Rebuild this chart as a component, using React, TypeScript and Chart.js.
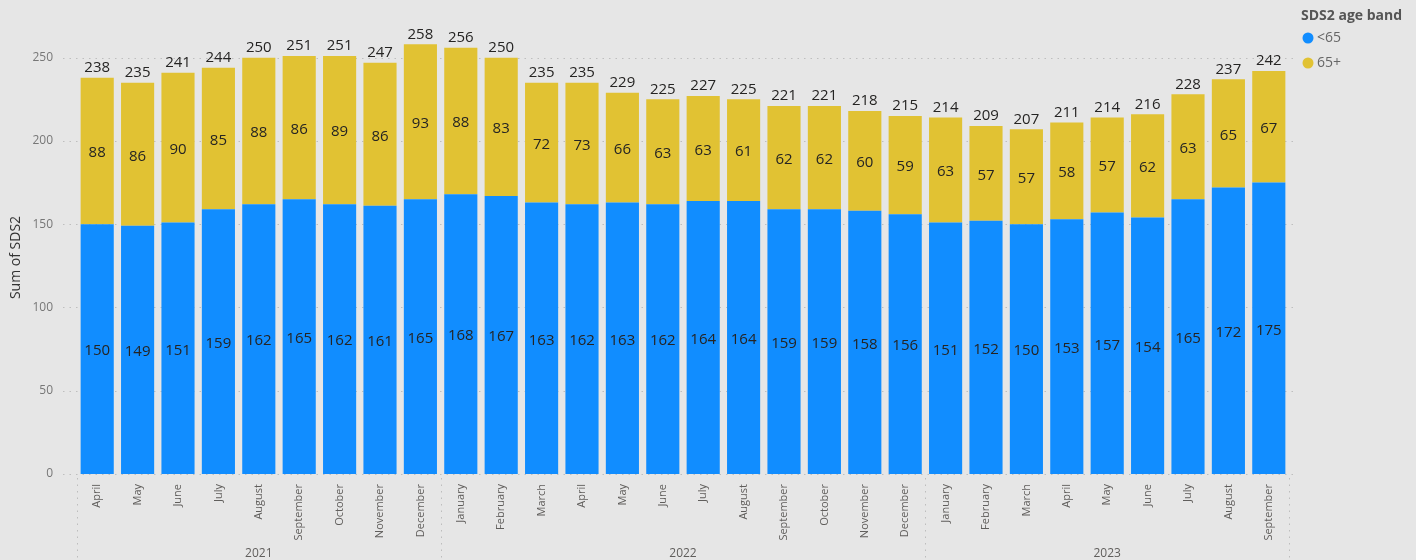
import React, { useEffect, useRef } from "react";
import { Chart, registerables } from "chart.js";

Chart.register(...registerables);

const months = [
  "April", "May", "June", "July", "August", "September", "October", "November", "December",
  "January", "February", "March", "April", "May", "June", "July", "August", "September", "October", "November", "December",
  "January", "February", "March", "April", "May", "June", "July", "August", "September",
];
const years = ["2021", "2022", "2023"];
const yearCounts = [9, 12, 9];
const under65 = [150, 149, 151, 159, 162, 165, 162, 161, 165, 168, 167, 163, 162, 163, 162, 164, 164, 159, 159, 158, 156, 151, 152, 150, 153, 157, 154, 165, 172, 175];
const over65 = [88, 86, 90, 85, 88, 86, 89, 86, 93, 88, 83, 72, 73, 66, 63, 63, 61, 62, 62, 60, 59, 63, 57, 57, 58, 57, 62, 63, 65, 67];
const seriesNames = ["<65", "65+"];
const yTicks = [0, 50, 100, 150, 200, 250];

const BLUE = "#118DFF";
const YELLOW = "#E1C233";
const BG = "#E6E6E6";
const FONT = "'Open Sans', 'Noto Sans', sans-serif";

const gridPlugin = {
  id: "dottedGrid",
  beforeDatasetsDraw(chart: any) {
    const ctx = chart.ctx;
    const area = chart.chartArea;
    const ys = chart.scales.y;
    ctx.save();
    ctx.strokeStyle = "#BEBEBE";
    ctx.lineWidth = 1;
    ctx.setLineDash([1.5, 5]);
    yTicks.forEach((v) => {
      const y = Math.round(ys.getPixelForValue(v)) + 0.5;
      ctx.beginPath();
      ctx.moveTo(area.left - 14, y);
      ctx.lineTo(area.right + 6, y);
      ctx.stroke();
    });
    ctx.restore();
  },
};

const overlay = {
  id: "overlay",
  afterDatasetsDraw(chart: any) {
    const ctx = chart.ctx;
    const area = chart.chartArea;
    const m0 = chart.getDatasetMeta(0);
    const m1 = chart.getDatasetMeta(1);
    ctx.save();
    ctx.font = `15px ${FONT}`;
    ctx.textAlign = "center";
    ctx.textBaseline = "middle";
    ctx.fillStyle = "#252423";
    m0.data.forEach((el: any, i: number) => {
      ctx.fillText(String(under65[i]), el.x, (el.y + el.base) / 2 + 2);
    });
    m1.data.forEach((el: any, i: number) => {
      ctx.fillText(String(over65[i]), el.x, (el.y + el.base) / 2 + 2);
      ctx.fillText(String(under65[i] + over65[i]), el.x, el.y - 10);
    });

    // year separators and labels
    const step = (area.right - area.left) / months.length;
    ctx.strokeStyle = "#BDBDBD";
    ctx.lineWidth = 1;
    ctx.setLineDash([1.5, 5]);
    let idx = 0;
    const bounds = [0];
    yearCounts.forEach((c) => {
      idx += c;
      bounds.push(idx);
    });
    bounds.forEach((b) => {
      const x = Math.round(area.left + b * step) + 0.5;
      ctx.beginPath();
      ctx.moveTo(x, area.bottom + 4);
      ctx.lineTo(x, 560);
      ctx.stroke();
    });
    ctx.setLineDash([]);
    ctx.font = `12px ${FONT}`;
    ctx.fillStyle = "#605E5C";
    ctx.textBaseline = "alphabetic";
    years.forEach((y, k) => {
      const cx = area.left + ((bounds[k] + bounds[k + 1]) / 2) * step;
      ctx.fillText(y, cx, 557);
    });

    // legend
    ctx.textAlign = "left";
    ctx.font = `bold 14px ${FONT}`;
    ctx.fillStyle = "#555555";
    ctx.textBaseline = "middle";
    ctx.fillText("SDS2 age band", 1301, 16);
    ctx.font = `14px ${FONT}`;
    [BLUE, YELLOW].forEach((c, k) => {
      const cy = 38 + k * 25;
      ctx.fillStyle = c;
      ctx.beginPath();
      ctx.arc(1308, cy, 5.5, 0, Math.PI * 2);
      ctx.fill();
      ctx.fillStyle = "#666666";
      ctx.fillText(seriesNames[k], 1317, cy);
    });
    ctx.restore();
  },
};

export default function App() {
  const ref = useRef<HTMLCanvasElement>(null);
  useEffect(() => {
    document.body.style.margin = "0";
    document.body.style.background = BG;
    const chart = new Chart(ref.current!, {
      type: "bar",
      data: {
        labels: months,
        datasets: [
          { label: seriesNames[0], data: under65, backgroundColor: BLUE, barPercentage: 0.82, categoryPercentage: 1 },
          { label: seriesNames[1], data: over65, backgroundColor: YELLOW, barPercentage: 0.82, categoryPercentage: 1 },
        ],
      },
      options: {
        animation: false,
        responsive: false,
        maintainAspectRatio: false,
        layout: { padding: { left: 0, right: 127, top: 41, bottom: 0 } },
        plugins: { legend: { display: false }, tooltip: { enabled: false }, title: { display: false } },
        scales: {
          x: {
            stacked: true,
            grid: { display: false },
            border: { display: false },
            ticks: {
              maxRotation: 90,
              minRotation: 90,
              autoSkip: false,
              padding: 2,
              color: "#605E5C",
              font: { family: FONT, size: 11 },
            },
            afterFit: (s: any) => {
              s.height = 86;
            },
          },
          y: {
            stacked: true,
            min: 0,
            max: 260,
            border: { display: false },
            grid: { display: false, drawTicks: false },
            afterBuildTicks: (s: any) => {
              s.ticks = yTicks.map((v) => ({ value: v }));
            },
            ticks: {
              padding: 24,
              color: "#777777",
              font: { family: FONT, size: 12 },
            },
            title: {
              display: true,
              text: "Sum of SDS2",
              color: "#333333",
              font: { family: FONT, size: 14 },
              padding: { top: 8, bottom: 0 },
            },
            afterFit: (s: any) => {
              s.width = 77;
            },
          },
        },
      },
      plugins: [gridPlugin, overlay],
    } as any);
    return () => chart.destroy();
  }, []);
  return (
    <div style={{ width: 1416, height: 560, background: BG }}>
      <canvas ref={ref} width={1416} height={560} style={{ display: "block" }} />
    </div>
  );
}
